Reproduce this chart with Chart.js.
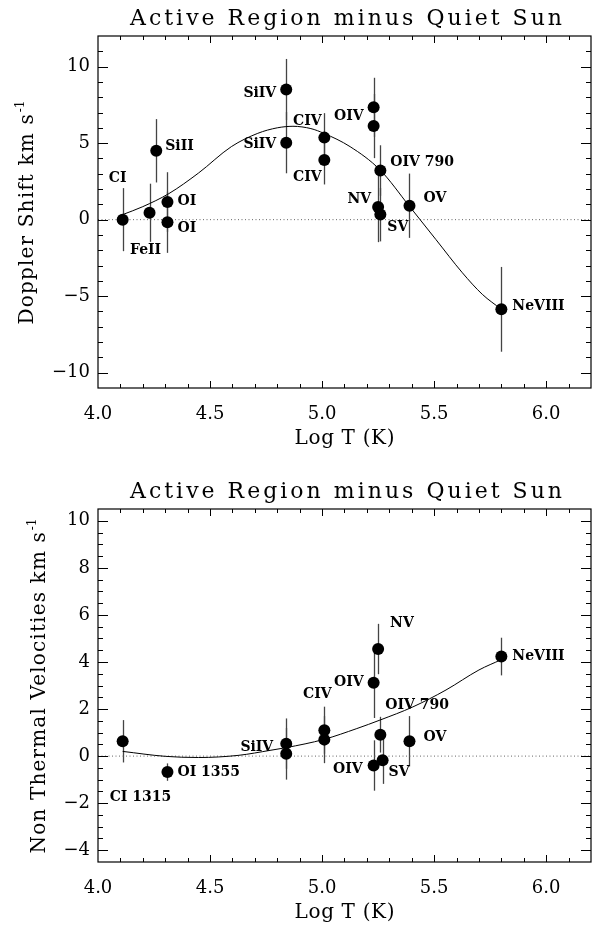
<!DOCTYPE html>
<html>
<head>
<meta charset="utf-8">
<script src="https://cdn.jsdelivr.net/npm/chart.js@4/dist/chart.umd.min.js"></script>
<style>
  body { margin: 0; background: #fff; }
  canvas { display: block; }
</style>
</head>
<body>
<canvas id="doppler" width="597" height="463"></canvas>
<canvas id="nonthermal" width="597" height="463"></canvas>
<script>
// ---- top panel : Doppler shift (AR - QS) ----
var dop_lines = ['CI', 'FeII', 'OI', 'OI', 'SiII', 'SiIV', 'SiIV', 'CIV', 'CIV', 'OIV', '', 'OIV 790', 'NV', 'SV', 'OV', 'NeVIII']
var dop_logT  = [4.11, 4.23, 4.31, 4.31, 4.26, 4.84, 4.84, 5.01, 5.01, 5.23, 5.23, 5.26, 5.25, 5.26, 5.39, 5.80]
var dop_shift = [0.0, 0.45, 1.15, -0.17, 4.5, 8.5, 5.03, 5.36, 3.9, 7.34, 6.12, 3.21, 0.83, 0.33, 0.91, -5.86]
var dop_err   = [2.06, 1.9, 1.95, 2.0, 2.07, 2.0, 2.0, 1.6, 1.6, 1.93, 2.1, 1.65, 2.3, 1.75, 2.1, 2.77]
// fitted curve
var dop_fit_logT = [4.11, 4.20, 4.316, 4.448, 4.595, 4.713, 4.80, 4.87, 4.95, 5.008, 5.125, 5.258, 5.39, 5.508, 5.626, 5.715, 5.80]
var dop_fit      = [0.33, 0.85, 1.70, 3.04, 4.77, 5.64, 6.0, 6.1, 5.95, 5.64, 4.77, 3.26, 0.87, -1.30, -3.47, -4.88, -5.86]

// ---- bottom panel : non thermal velocities (AR - QS) ----
var ntv_lines = ['CI 1315', 'OI 1355', 'SiIV', '', 'CIV', '', 'OIV', 'NV', 'OIV', 'OIV 790', 'SV', 'OV', 'NeVIII']
var ntv_logT  = [4.11, 4.31, 4.84, 4.84, 5.01, 5.01, 5.23, 5.25, 5.23, 5.26, 5.27, 5.39, 5.80]
var ntv_vel   = [0.63, -0.68, 0.53, 0.10, 1.1, 0.70, 3.12, 4.55, -0.40, 0.91, -0.18, 0.63, 4.23]
var ntv_err   = [0.9, 0.37, 1.07, 1.1, 1.0, 1.0, 1.5, 1.07, 1.07, 0.76, 1.0, 1.07, 0.8]
var ntv_fit_logT = [4.11, 4.30, 4.448, 4.625, 4.772, 4.84, 5.008, 5.155, 5.258, 5.405, 5.553, 5.70, 5.80]
var ntv_fit      = [0.2, -0.01, -0.06, 0.03, 0.25, 0.36, 0.71, 1.17, 1.53, 2.09, 2.81, 3.66, 4.1]

// axes
var x_range   = [4.0, 6.2]
var dop_range = [-11, 12]
var ntv_range = [-4.5, 10.5]

// label placement (pixels from the dot): [dx, dy, align]
var dop_label_pos = [[-5, -41, 'center'], [-4, 38, 'center'], [10, -1, 'left'], [10, 6, 'left'], [9, -4, 'left'],
  [-10, 4, 'right'], [-10, 2, 'right'], [-17, -16, 'center'], [-17, 17, 'center'], [-10, 9, 'right'], [0, 0, 'left'],
  [10, -8, 'left'], [-7, -8, 'right'], [7, 13, 'left'], [14, -7, 'left'], [11, -3, 'left']]
var ntv_label_pos = [[-13, 56, 'left'], [10, 0, 'left'], [-13, 4, 'right'], [0, 0, 'left'], [-7, -36, 'center'], [0, 0, 'left'],
  [-10, 0, 'right'], [12, -26, 'left'], [-11, 4, 'right'], [5, -29, 'left'], [6, 12, 'left'], [14, -4, 'left'], [11, 0, 'left']]

var SERIF = '"DejaVu Serif", "Liberation Serif", serif'

function toPoints(xs, ys) {
  var out = []
  for (var i = 0; i < xs.length; i++) out.push({x: xs[i], y: ys[i]})
  return out
}

// text spread to a given width, the way IDL hershey fonts look
function spacedText(ctx, txt, x, y, width) {
  ctx.letterSpacing = '0px'
  var w = ctx.measureText(txt).width
  var s = (width - w) / (txt.length - 1)
  ctx.letterSpacing = s + 'px'
  ctx.textAlign = 'left'
  ctx.fillText(txt, x, y)
  ctx.letterSpacing = '0px'
}

function idlPlugin(p) {
  return {
    id: 'idl',
    beforeDatasetsDraw: function(chart) {
      var ctx = chart.ctx, xs = chart.scales.x, ys = chart.scales.y
      ctx.save()
      ctx.strokeStyle = '#444'
      ctx.lineWidth = 1.3
      for (var i = 0; i < p.x.length; i++) {
        var px = Math.round(xs.getPixelForValue(p.x[i])) + 0.5
        ctx.beginPath()
        ctx.moveTo(px, ys.getPixelForValue(p.y[i] - p.err[i]))
        ctx.lineTo(px, ys.getPixelForValue(p.y[i] + p.err[i]))
        ctx.stroke()
      }
      ctx.restore()
    },
    afterDraw: function(chart) {
      var ctx = chart.ctx, a = chart.chartArea
      var xs = chart.scales.x, ys = chart.scales.y
      ctx.save()
      ctx.strokeStyle = '#000'
      ctx.lineWidth = 1.2
      ctx.strokeRect(a.left, a.top, a.right - a.left, a.bottom - a.top)

      // inward ticks on all four sides
      ctx.lineWidth = 1
      ctx.beginPath()
      for (var k = Math.round(x_range[0] * 10) + 1; k < Math.round(x_range[1] * 10); k++) {
        var px = Math.round(xs.getPixelForValue(k / 10)) + 0.5
        var len = (k % 5 == 0) ? 7 : 4
        ctx.moveTo(px, a.bottom); ctx.lineTo(px, a.bottom - len)
        ctx.moveTo(px, a.top); ctx.lineTo(px, a.top + len)
      }
      var n = Math.round((p.yr[1] - p.yr[0]) / p.minor)
      for (var j = 1; j < n; j++) {
        var v = p.yr[0] + j * p.minor
        var py = Math.round(ys.getPixelForValue(v)) + 0.5
        var ylen = (Math.abs(v % p.major) < 1e-6) ? 10 : 5
        ctx.moveTo(a.left, py); ctx.lineTo(a.left + ylen, py)
        ctx.moveTo(a.right, py); ctx.lineTo(a.right - ylen, py)
      }
      ctx.stroke()

      // titles
      ctx.fillStyle = '#000'
      ctx.textBaseline = 'alphabetic'
      ctx.font = '22px ' + SERIF
      spacedText(ctx, 'Active Region minus Quiet Sun', 346 - 216, a.top - 11, 432)
      ctx.font = '20px ' + SERIF
      var cx = (a.left + a.right) / 2
      spacedText(ctx, 'Log T (K)', cx - 50, a.bottom + 56, 100)

      // y title, rotated, with the s^-1 superscript
      ctx.save()
      ctx.translate(p.ytitleX, (a.top + a.bottom) / 2)
      ctx.rotate(-Math.PI / 2)
      ctx.font = '12px ' + SERIF
      var supW = ctx.measureText('-1').width + 1
      ctx.font = '20px ' + SERIF
      var mainW = p.ytitleLen - supW - 2
      spacedText(ctx, p.ytitle, -p.ytitleLen / 2, 0, mainW)
      ctx.font = '12px ' + SERIF
      ctx.fillText('-1', -p.ytitleLen / 2 + mainW + 2, -9)
      ctx.restore()

      // line labels
      ctx.font = 'bold 14px ' + SERIF
      ctx.textBaseline = 'middle'
      for (var i = 0; i < p.labels.length; i++) {
        if (!p.labels[i]) continue
        var o = p.pos[i]
        ctx.textAlign = o[2]
        ctx.fillText(p.labels[i], xs.getPixelForValue(p.x[i]) + o[0], ys.getPixelForValue(p.y[i]) + o[1])
      }
      ctx.restore()
    }
  }
}

function makePanel(id, p) {
  var ctx = document.getElementById(id).getContext('2d')
  return new Chart(ctx, {
    type: 'scatter',
    data: {
      datasets: [
        {
          data: toPoints(p.x, p.y),
          pointRadius: 6,
          pointHoverRadius: 6,
          pointBackgroundColor: '#000',
          pointBorderWidth: 0,
          showLine: false
        },
        {
          data: toPoints(p.fitx, p.fity),
          showLine: true,
          pointRadius: 0,
          borderColor: '#000',
          borderWidth: 1,
          cubicInterpolationMode: 'monotone'
        },
        {
          data: toPoints(x_range, [0, 0]),
          showLine: true,
          pointRadius: 0,
          borderColor: '#666',
          borderWidth: 1,
          borderDash: [1, 2.5]
        }
      ]
    },
    options: {
      responsive: false,
      animation: false,
      events: [],
      layout: { padding: { top: p.padTop, right: 1, left: 0, bottom: 0 } },
      plugins: { legend: { display: false }, tooltip: { enabled: false }, title: { display: false } },
      scales: {
        x: {
          type: 'linear', min: x_range[0], max: x_range[1],
          grid: { display: false, drawTicks: false },
          border: { display: false },
          afterFit: function(s) { s.height = p.xh },
          ticks: {
            stepSize: 0.5, includeBounds: false, padding: 16, color: '#000',
            font: { family: SERIF, size: 18 },
            maxRotation: 0,
            callback: function(v) { return v.toFixed(1) }
          }
        },
        y: {
          type: 'linear', min: p.yr[0], max: p.yr[1],
          grid: { display: false, drawTicks: false },
          border: { display: false },
          afterFit: function(s) { s.width = 98 },
          ticks: {
            stepSize: p.major, includeBounds: false, padding: 8, color: '#000',
            font: { family: SERIF, size: 18 },
            callback: function(v) { return v < 0 ? '\u2212' + Math.abs(v) : String(v) }
          }
        }
      }
    },
    plugins: [idlPlugin(p)]
  })
}

makePanel('doppler', {
  x: dop_logT, y: dop_shift, err: dop_err, fitx: dop_fit_logT, fity: dop_fit,
  labels: dop_lines, pos: dop_label_pos, yr: dop_range, major: 5, minor: 1,
  padTop: 36, xh: 75,
  ytitle: 'Doppler Shift km s', ytitleX: 33, ytitleLen: 225
})

makePanel('nonthermal', {
  x: ntv_logT, y: ntv_vel, err: ntv_err, fitx: ntv_fit_logT, fity: ntv_fit,
  labels: ntv_lines, pos: ntv_label_pos, yr: ntv_range, major: 2, minor: 0.5,
  padTop: 46, xh: 64,
  ytitle: 'Non Thermal Velocities km s', ytitleX: 45, ytitleLen: 336
})
</script>
</body>
</html>
